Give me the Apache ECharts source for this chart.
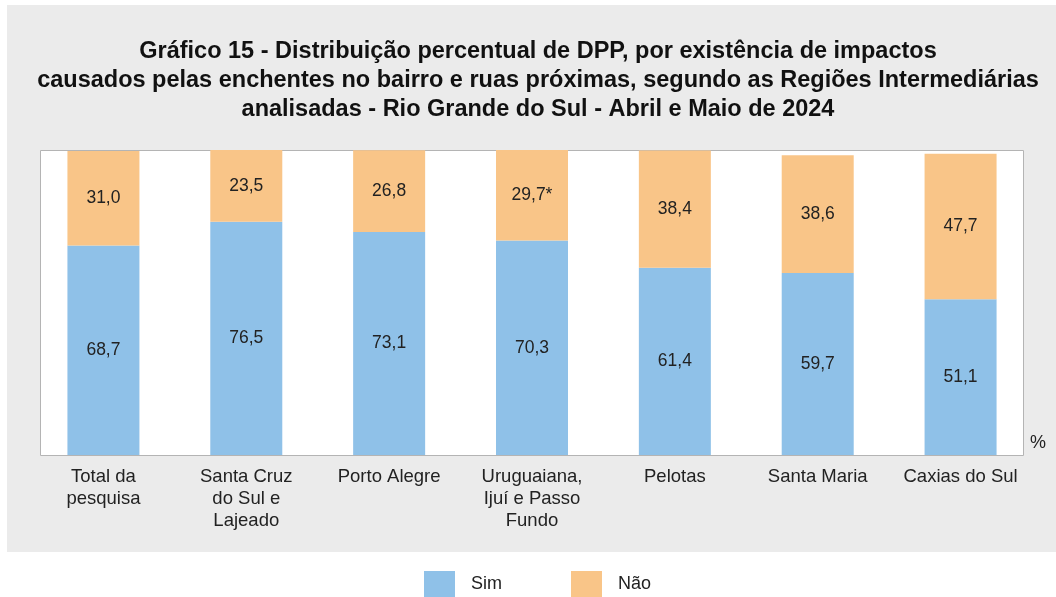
<!DOCTYPE html>
<html>
<head>
<meta charset="utf-8">
<script src="https://cdn.jsdelivr.net/npm/echarts@6/dist/echarts.min.js"></script>
<style>
  body { margin: 0; background: #fff; }
  #chart { width: 1056px; height: 597px; }
</style>
</head>
<body>
<div id="chart"></div>
<script>
// dados
const regioes = [
  "Total da\npesquisa",
  "Santa Cruz\ndo Sul e\nLajeado",
  "Porto Alegre",
  "Uruguaiana,\nIjuí e Passo\nFundo",
  "Pelotas",
  "Santa Maria",
  "Caxias do Sul"
];
const sim = [68.7, 76.5, 73.1, 70.3, 61.4, 59.7, 51.1];
const nao = [31.0, 23.5, 26.8, 29.7, 38.4, 38.6, 47.7];
const naoRotulos = ["31,0", "23,5", "26,8", "29,7*", "38,4", "38,6", "47,7"];

const titulo = "Gráfico 15 - Distribuição percentual de DPP, por existência de impactos\ncausados pelas enchentes no bairro e ruas próximas, segundo as Regiões Intermediárias\nanalisadas - Rio Grande do Sul - Abril e Maio de 2024";

const fonte = "'Liberation Sans', Arial, sans-serif";
const fmt = (v) => v.toFixed(1).replace(".", ",");

const myChart = echarts.init(document.getElementById("chart"));
myChart.setOption({
  animation: false,
  textStyle: { fontFamily: fonte },
  graphic: [
    // painel cinza
    { type: "rect", z: -10, shape: { x: 7, y: 5, width: 1049, height: 547 }, style: { fill: "#ebebeb" } },
    // área do gráfico
    { type: "rect", z: -9, shape: { x: 40.5, y: 150.5, width: 983, height: 305 }, style: { fill: "#fff", stroke: "#b4b4b4", lineWidth: 1 } },
    { type: "text", x: 1030, y: 434, style: { text: "%", font: "18px " + fonte, fill: "#222" } },
    {
      type: "text", x: 538, y: 37,
      style: { text: titulo, textAlign: "center", font: "bold 23.5px " + fonte, lineHeight: 29, fill: "#111" }
    }
  ],
  legend: {
    data: ["Sim", "Não"],
    left: 419,
    top: 566,
    itemWidth: 31,
    itemHeight: 26,
    itemGap: 69,
    icon: "rect",
    textStyle: { fontSize: 18, color: "#222", padding: [0, 0, 0, 11] }
  },
  grid: { left: 32, width: 1000, top: 150, bottom: 142, show: false },
  xAxis: {
    type: "category",
    data: regioes,
    axisLine: { show: false },
    axisTick: { show: false },
    axisLabel: { fontSize: 18.5, color: "#222", lineHeight: 22, margin: 11, interval: 0, verticalAlign: "top" }
  },
  yAxis: { type: "value", min: 0, max: 100, show: false, splitLine: { show: false } },
  series: [
    {
      name: "Sim",
      type: "bar",
      stack: "total",
      barWidth: 72,
      data: sim,
      itemStyle: { color: "#8fc1e8" },
      label: { show: true, position: "inside", fontSize: 17.5, color: "#222", formatter: (p) => fmt(p.value) }
    },
    {
      name: "Não",
      type: "bar",
      stack: "total",
      barWidth: 72,
      data: nao,
      itemStyle: { color: "#f9c588" },
      label: { show: true, position: "inside", fontSize: 17.5, color: "#222", formatter: (p) => naoRotulos[p.dataIndex] }
    }
  ]
});
</script>
</body>
</html>
